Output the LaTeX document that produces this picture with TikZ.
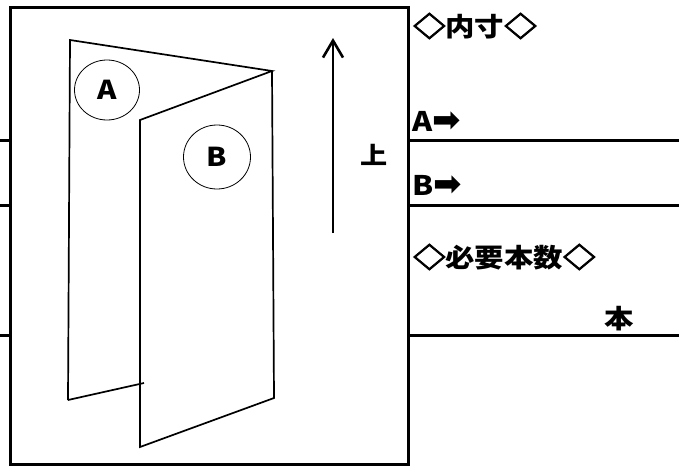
\documentclass[tikz,border=0pt]{standalone}
\usepackage{fontspec}
\newfontfamily\gothic{Noto Sans CJK JP}[FakeStretch=1.13]
\newfontfamily\diafont{Noto Sans CJK JP}[FakeStretch=1.2,FakeBold=3]
\newfontfamily\symfont{DejaVu Sans}
\newcommand{\dia}{{\diafont\fontsize{27}{26}\selectfont ◇}}
\usetikzlibrary{arrows.meta,positioning,shapes.geometric}

\begin{document}
\begin{tikzpicture}[x=1pt,y=-1pt,
	txt/.style={font=\gothic\bfseries\fontsize{26}{26}\selectfont,inner sep=0pt},
	ltr/.style={font=\gothic\bfseries\fontsize{27}{27}\selectfont,inner sep=0pt,anchor=west},
	panel/.style={line width=1.7pt,line join=miter},
	rule/.style={line width=3pt}]
	\useasboundingbox (0,0) rectangle (679,466);

	% frame and form lines
	\draw[rule] (10,7) rectangle (408,464);
	\foreach \y in {140,205,335} {
		\draw[rule] (0,\y) -- (10,\y);
		\draw[rule] (408,\y) -- (679,\y);
	}

	% folded sheet
	\coordinate(atl) at (70,40);
	\coordinate(top) at (272,71);
	\coordinate(abl) at (68,400);
	\coordinate(acut) at (144,383);
	\coordinate(btl) at (140,120);
	\coordinate(bbl) at (140,447);
	\coordinate(bbr) at (274,398);

	\draw[panel] (abl) -- (atl) -- (top) -- (btl) -- (bbl) -- (bbr) -- (top);
	\draw[panel] (abl) -- (acut);

	\node[txt,draw,ellipse,line width=0.8pt,minimum width=65,minimum height=60] (pa) at (107,90) {A};
	\node[txt,draw,ellipse,line width=0.8pt,minimum width=67,minimum height=64] (pb) at (217,157) {B};

	% direction
	\coordinate(up0) at (333,233);
	\coordinate(up1) at (333,38);
	\draw[line width=2.6pt,-{Straight Barb[length=17pt,width=20pt,line width=2.6pt]}] (up0) -- (up1);
	\node[txt,font=\gothic\bfseries\fontsize{24}{24}\selectfont] (ue) at (374,155) {上};

	% right column
	\node[txt,anchor=west] (naisun) at (413,26) {\dia 内寸\dia};
	\node[ltr] (sizea) at (412,121) {A{\symfont\fontsize{34}{34}\selectfont ➡}};
	\node[ltr] (sizeb) at (412,185) {B{\symfont\fontsize{34}{34}\selectfont ➡}};
	\node[txt,anchor=west] (honsu) at (413,257) {\dia 必要本数\dia};
	\node[txt] (hon) at (619,319) {本};
\end{tikzpicture}
\end{document}
